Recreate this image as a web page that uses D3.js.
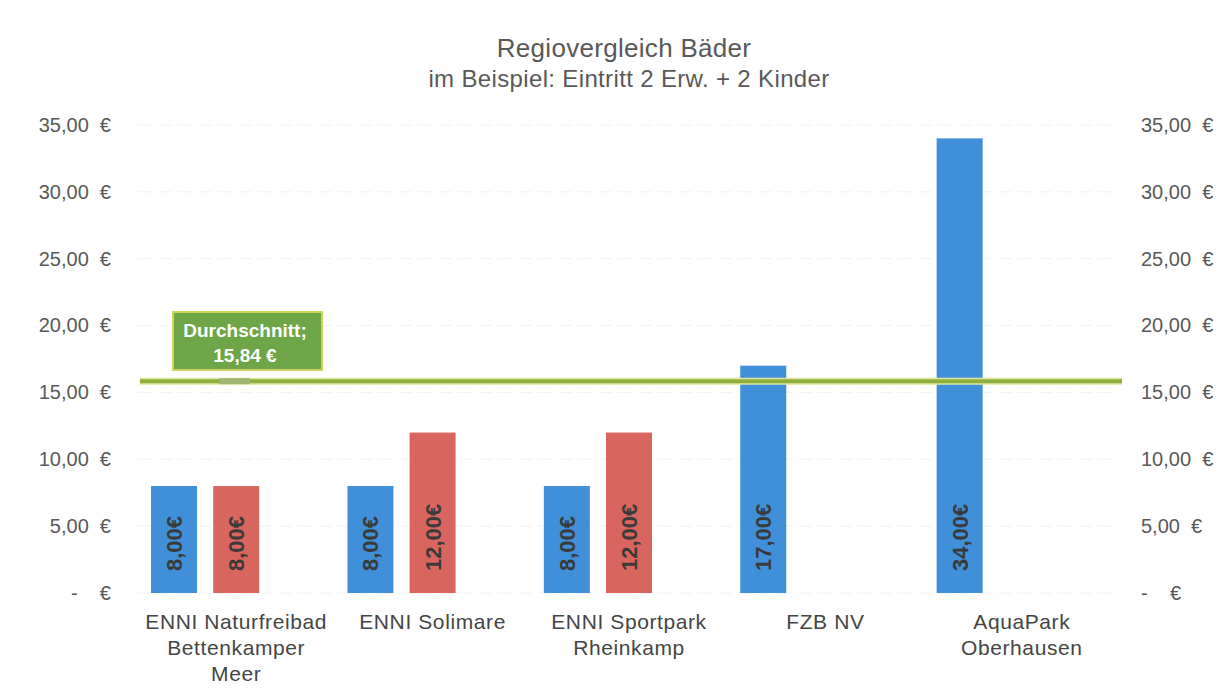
<!DOCTYPE html>
<html>
<head>
<meta charset="utf-8">
<script src="https://cdn.jsdelivr.net/npm/d3@7"></script>
<style>
  body { margin: 0; background: #fff; }
  svg { font-family: "Liberation Sans", Arial, sans-serif; }
</style>
</head>
<body>
<div id="chart"></div>
<script>
// Daten
const categories = [
    ["ENNI Naturfreibad", "Bettenkamper", "Meer"],
    ["ENNI Solimare"],
    ["ENNI Sportpark", "Rheinkamp"],
    ["FZB NV"],
    ["AquaPark", "Oberhausen"]
];
const seriesNames = ["blau", "rot", "leer"];
const blueValues = [8, 8, 8, 17, 34];
const redValues = [8, 12, 12, null, null];
const emptyValues = [null, null, null, null, null];
const average = 15.84;
const yTicks = [0, 5, 10, 15, 20, 25, 30, 35];

const width = 1228, height = 693;
const plot = { left: 138, right: 1120, top: 125, bottom: 593 };

const svg = d3.select("#chart").append("svg")
    .attr("width", width)
    .attr("height", height);

const de = d3.formatLocale({ decimal: ",", thousands: ".", grouping: [3], currency: ["", " €"] });
const fmt = de.format(",.2f");
const axisFmt = d => d === 0 ? "-    €" : fmt(d) + "  €";

const x0 = d3.scaleBand()
    .domain(d3.range(categories.length))
    .range([plot.left, plot.right]);

const x1 = d3.scaleBand()
    .domain(seriesNames)
    .range([0, x0.bandwidth()])
    .paddingInner(0.26)
    .paddingOuter(0.21);

const y = d3.scaleLinear()
    .domain([0, 35])
    .range([plot.bottom, plot.top]);

// Gitternetz
svg.append("g")
    .selectAll("line")
    .data(yTicks)
    .join("line")
    .attr("x1", plot.left)
    .attr("x2", plot.right)
    .attr("y1", d => y(d))
    .attr("y2", d => y(d))
    .attr("stroke", "#f2f2f2")
    .attr("stroke-dasharray", "14,6");

// Achsen links und rechts
const leftAxis = d3.axisLeft(y).tickValues(yTicks).tickFormat(axisFmt).tickSize(0).tickPadding(0);
const rightAxis = d3.axisRight(y).tickValues(yTicks).tickFormat(axisFmt).tickSize(0).tickPadding(0);

const gl = svg.append("g").attr("transform", "translate(111,0)").call(leftAxis);
const gr = svg.append("g").attr("transform", "translate(1141,0)").call(rightAxis);
[gl, gr].forEach(g => {
    g.select(".domain").remove();
    g.selectAll("text")
        .attr("font-size", 20)
        .attr("fill", "#595959")
        .style("white-space", "pre")
        .attr("font-family", "Liberation Sans, Arial, sans-serif");
});

// Balken
const rows = categories.map((c, i) => ({
    i: i,
    vals: [
        { s: "blau", v: blueValues[i], color: "#3f90d8" },
        { s: "rot", v: redValues[i], color: "#d9655f" },
        { s: "leer", v: emptyValues[i], color: "none" }
    ]
}));

const groups = svg.append("g")
    .selectAll("g")
    .data(rows)
    .join("g")
    .attr("transform", d => `translate(${x0(d.i)},0)`);

const cells = groups.selectAll("g")
    .data(d => d.vals.filter(v => v.v != null))
    .join("g");

cells.append("rect")
    .attr("x", d => x1(d.s))
    .attr("width", x1.bandwidth())
    .attr("y", d => y(d.v))
    .attr("height", d => y(0) - y(d.v))
    .attr("fill", d => d.color);

cells.append("text")
    .attr("transform", d => `translate(${x1(d.s) + x1.bandwidth() / 2 + 8},${y(0) - 22}) rotate(-90)`)
    .attr("text-anchor", "start")
    .attr("font-size", 22)
    .attr("font-weight", "bold")
    .attr("fill", "#3a3a3a")
    .text(d => fmt(d.v) + "€");

// Durchschnittslinie
svg.append("line")
    .attr("x1", 140)
    .attr("x2", 1122)
    .attr("y1", y(average))
    .attr("y2", y(average))
    .attr("stroke", "#dfe6a0")
    .attr("stroke-width", 7);
svg.append("line")
    .attr("x1", 140)
    .attr("x2", 1122)
    .attr("y1", y(average))
    .attr("y2", y(average))
    .attr("stroke", "#8fb03c")
    .attr("stroke-width", 4);
svg.append("rect")
    .attr("x", 219)
    .attr("y", y(average) - 3)
    .attr("width", 31)
    .attr("height", 6)
    .attr("fill", "#a1b672");

// Beschriftung Durchschnitt
const lab = svg.append("g");
lab.append("rect")
    .attr("x", 173)
    .attr("y", 312)
    .attr("width", 149)
    .attr("height", 58)
    .attr("fill", "#6ea547")
    .attr("stroke", "#cdd35c")
    .attr("stroke-width", 2);
lab.append("text")
    .attr("x", 245)
    .attr("y", 337)
    .attr("text-anchor", "middle")
    .attr("font-size", 19)
    .attr("font-weight", "bold")
    .attr("fill", "#fff")
    .text("Durchschnitt;");
lab.append("text")
    .attr("x", 245)
    .attr("y", 362)
    .attr("text-anchor", "middle")
    .attr("font-size", 19)
    .attr("font-weight", "bold")
    .attr("fill", "#fff")
    .text(fmt(average) + " €");

// Kategorien
svg.append("g")
    .selectAll("text")
    .data(categories)
    .join("text")
    .attr("x", (d, i) => x0(i) + x0.bandwidth() / 2)
    .attr("y", 629)
    .attr("text-anchor", "middle")
    .attr("font-size", 21)
    .attr("letter-spacing", 0.6)
    .attr("fill", "#454545")
    .selectAll("tspan")
    .data(d => d)
    .join("tspan")
    .attr("x", function () { return this.parentNode.getAttribute("x"); })
    .attr("dy", (d, i) => i === 0 ? 0 : 26)
    .text(d => d);

// Titel
svg.append("text")
    .attr("x", 624)
    .attr("y", 57)
    .attr("text-anchor", "middle")
    .attr("font-size", 26)
    .attr("letter-spacing", 0.3)
    .attr("fill", "#595959")
    .text("Regiovergleich Bäder");
svg.append("text")
    .attr("x", 629)
    .attr("y", 87)
    .attr("text-anchor", "middle")
    .attr("font-size", 24)
    .attr("letter-spacing", 0.35)
    .attr("fill", "#595959")
    .text("im Beispiel: Eintritt 2 Erw. + 2 Kinder");
</script>
</body>
</html>
